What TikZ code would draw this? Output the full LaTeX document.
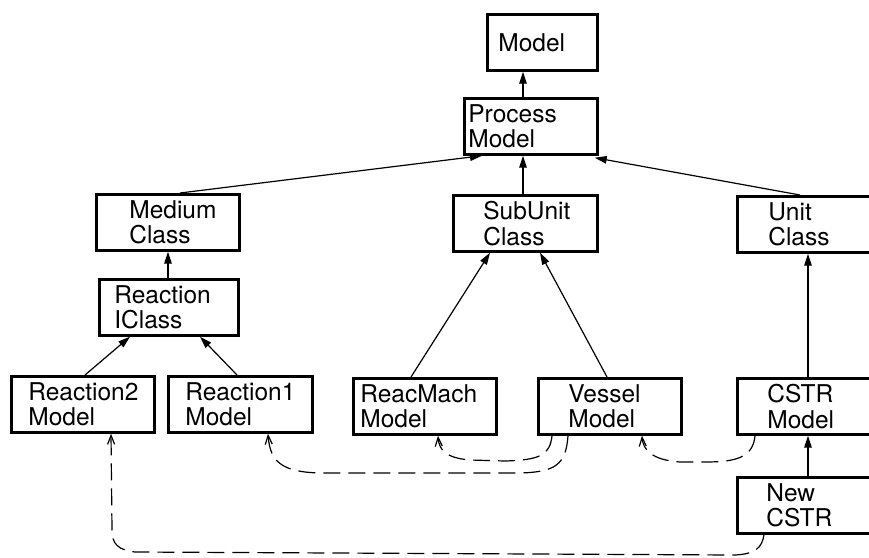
\documentclass[tikz,border=0pt]{standalone}
\usepackage{fontspec}
\setmainfont{TeX Gyre Heros}
\usetikzlibrary{arrows.meta}
\begin{document}
\begin{tikzpicture}[x=1pt,y=-1pt,
  cls/.style={draw=black, line width=2.7pt, rectangle, anchor=north west,
    minimum height=56pt, inner ysep=0pt, align=left,
    font=\fontsize{24.5}{25.5}\selectfont},
  inh/.style={line width=1.2pt, -{Triangle[length=12pt,width=7.5pt]}},
  dep/.style={line width=1.2pt, dash pattern=on 17pt off 8pt,
    -{Straight Barb[length=9pt,width=7pt,line width=1.2pt]}}
]
\useasboundingbox (0,0) rectangle (869,557);
\fill[white] (0,0) rectangle (869,557);
\clip (0,0) rectangle (869,557);

% class boxes (width = text width + 2 inner xsep)
\node[cls, inner xsep=11pt, text width=88pt]  (model)    at (486,13)  {Model};
\node[cls, inner xsep=4pt,  text width=125pt] (process)  at (463,97)  {Process\\Model};
\node[cls, inner xsep=33pt, text width=77pt]  (medium)   at (95,193)  {Medium\\Class};
\node[cls, inner xsep=30pt, text width=84pt]  (subunit)  at (452,194) {SubUnit\\Class};
\node[cls, inner xsep=31pt, text width=88pt]  (unit)     at (736,195) {Unit\\Class};
\node[cls, inner xsep=15pt, text width=109pt] (ric)      at (98,278)  {Reaction\\IClass};
\node[cls, inner xsep=17pt, text width=109pt] (r2)       at (10,375)  {Reaction2\\Model};
\node[cls, inner xsep=17pt, text width=110pt] (r1)       at (167,375) {Reaction1\\Model};
\node[cls, inner xsep=7pt,  text width=129pt] (reacmach) at (352,377) {ReacMach\\Model};
\node[cls, inner xsep=30pt, text width=83pt]  (vessel)   at (537,377) {Vessel\\Model};
\node[cls, inner xsep=30pt, text width=90pt]  (cstr)     at (736,377) {CSTR\\Model};
\node[cls, inner xsep=29pt, text width=92pt]  (newcstr)  at (736,476) {New\\CSTR};

% inheritance links
\draw[inh] ([xshift=60pt]process.north west) -- ([xshift=37pt]model.south west);
\draw[inh] ([xshift=85pt]medium.north west) -- ([xshift=19pt]process.south west);
\draw[inh] ([xshift=71pt]subunit.north west) -- ([xshift=60pt]process.south west);
\draw[inh] ([xshift=64pt]unit.north west) -- ([xshift=-4pt,yshift=-2pt]process.south east);
\draw[inh] ([xshift=70pt]ric.north west) -- ([xshift=73pt]medium.south west);
\draw[inh] ([xshift=75pt]r2.north west) -- ([xshift=32pt]ric.south west);
\draw[inh] ([xshift=70pt]r1.north west) -- ([xshift=102pt]ric.south west);
\draw[inh] ([xshift=59pt]reacmach.north west) -- ([xshift=38pt]subunit.south west);
\draw[inh] ([xshift=70pt]vessel.north west) -- ([xshift=88pt]subunit.south west);
\draw[inh] ([xshift=72pt]cstr.north west) -- ([xshift=72pt]unit.south west);
\draw[inh] ([xshift=72pt]newcstr.north west) -- ([xshift=72pt]cstr.south west);

% usage links
\draw[dep] ([xshift=28pt]newcstr.south west)
  .. controls (762,548) and (755,554) .. (735,555)
  -- (135,552) .. controls (118,550) and (112,544) .. (112,530)
  -- ([xshift=101pt]r2.south west);
\draw[dep] ([xshift=31pt]vessel.south west)
  .. controls (566,465) and (555,472) .. (520,473)
  -- (320,473) .. controls (282,472) and (270,462) .. ([xshift=101pt]r1.south west);
\draw[dep] ([xshift=15pt]vessel.south west)
  .. controls (550,455) and (540,460) .. (505,461)
  -- (470,460) .. controls (446,458) and (439,450) .. ([xshift=86pt]reacmach.south west);
\draw[dep] ([xshift=19pt]cstr.south west)
  .. controls (753,458) and (735,462) .. (705,462)
  -- (680,462) .. controls (652,460) and (643,450) .. ([xshift=105pt]vessel.south west);
\end{tikzpicture}
\end{document}
